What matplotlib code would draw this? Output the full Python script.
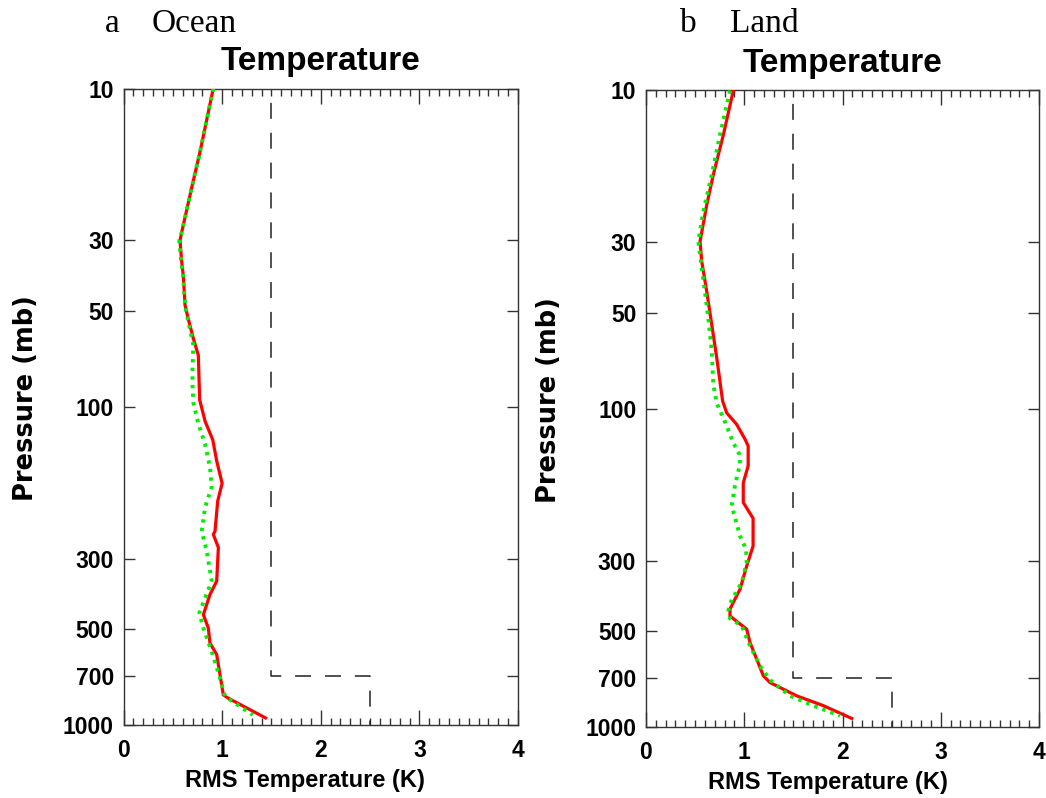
import matplotlib
matplotlib.use("Agg")
import matplotlib.pyplot as plt
from matplotlib.ticker import FixedLocator, MultipleLocator, NullLocator, FixedFormatter
import numpy as np

plt.rcParams['lines.scale_dashes'] = False

# ---------------- data ----------------
ocean_red_p = [10, 15.8, 20.6, 28.3, 30, 35, 39, 48, 53, 61, 69, 95, 111, 127, 148, 174, 198,
               246, 252, 277, 353, 389, 450, 496, 553, 601, 804, 824, 950]
ocean_red_t = [0.91, 0.776, 0.69, 0.59, 0.573, 0.59, 0.607, 0.624, 0.657, 0.708, 0.759, 0.772,
               0.827, 0.905, 0.945, 1.0, 0.955, 0.928, 0.911, 0.962, 0.945, 0.877, 0.81, 0.86,
               0.877, 0.945, 1.012, 1.063, 1.44]

ocean_grn_p = [10, 15.8, 20.6, 28.3, 30, 35, 39, 48, 51, 64, 76, 86, 97, 113, 131, 155, 179,
               207, 246, 284, 353, 399, 444, 496, 588, 713, 813, 930]
ocean_grn_t = [0.91, 0.776, 0.69, 0.59, 0.565, 0.585, 0.605, 0.624, 0.64, 0.708, 0.70, 0.70,
               0.708, 0.759, 0.827, 0.877, 0.894, 0.827, 0.793, 0.844, 0.894, 0.827, 0.769,
               0.81, 0.894, 0.979, 1.029, 1.31]

land_red_p = [10, 13.8, 18.4, 22.9, 29.8, 34.4, 42.8, 54.4, 69.2, 94.6, 103, 112, 125, 131,
              151, 171, 197, 221, 270, 312, 369, 426, 448, 493, 543, 690, 725, 798, 857, 940]
land_red_t = [0.889, 0.787, 0.685, 0.618, 0.55, 0.567, 0.618, 0.669, 0.72, 0.78, 0.821, 0.923,
              1.01, 1.04, 1.04, 0.99, 0.99, 1.09, 1.09, 1.025, 0.957, 0.855, 0.855, 1.025,
              1.059, 1.194, 1.262, 1.533, 1.805, 2.094]

land_grn_p = [10, 13.8, 18.4, 24.0, 29.8, 37.9, 51.8, 66, 84, 96, 110, 128, 139, 149, 174,
              202, 220, 251, 276, 305, 352, 398, 431, 456, 481, 556, 642, 712, 798, 857, 922]
land_grn_t = [0.855, 0.753, 0.669, 0.583, 0.532, 0.577, 0.634, 0.669, 0.685, 0.72, 0.804,
              0.889, 0.95, 0.957, 0.906, 0.872, 0.906, 0.957, 1.018, 1.025, 0.974, 0.872,
              0.838, 0.855, 0.974, 1.059, 1.16, 1.262, 1.465, 1.703, 1.975]

# reference (threshold) step line
thr_t = [1.5, 1.5, 2.5, 2.5]
thr_p = [10, 700, 700, 1000]

ytick_vals = [10, 30, 50, 100, 300, 500, 700, 1000]
ytick_labels = ["10", "30", "50", "100", "300", "500", "700", "1000"]
xtick_vals = [0, 1, 2, 3, 4]
xtick_labels = ["0", "1", "2", "3", "4"]

panel_letters = ["a", "b"]
panel_names = ["Ocean", "Land"]
title = "Temperature"
xlabel = "RMS Temperature (K)"
ylabel = "Pressure (mb)"

# ---------------- figure ----------------
W, H = 1046, 798
fig = plt.figure(figsize=(W / 100, H / 100), dpi=100)

sans = ['Liberation Sans', 'DejaVu Sans']
wide_sans = ['DejaVu Sans']
serif = ['Liberation Serif', 'DejaVu Serif']

def px_axes(l, t, r, b):
    return fig.add_axes([l / W, 1 - b / H, (r - l) / W, (b - t) / H])

axes_px = [(123.5, 88.5, 518, 725), (646, 90.5, 1039, 727)]
datasets = [(ocean_red_t, ocean_red_p, ocean_grn_t, ocean_grn_p),
            (land_red_t, land_red_p, land_grn_t, land_grn_p)]
letter_x = [112, 688]
name_x = [152, 730]
ylabel_x = [26, 549]
xlabel_x = [305, 828]

for i in range(2):
    l, t, r, b = axes_px[i]
    ax = px_axes(l, t, r, b)
    rt, rp, gt, gp = datasets[i]
    ax.plot(thr_t, thr_p, color='#222222', lw=1.1, linestyle=(11.5, (11.5, 10)), zorder=2)
    ax.plot(rt, rp, color='#ff0000', lw=2.3, solid_joinstyle='miter', zorder=3)
    ax.plot(gt, gp, color='#00ee00', lw=2.8, linestyle=(0, (2.4, 3.8)), zorder=4)

    ax.set_yscale('log')
    ax.set_ylim(1000, 10)
    ax.set_xlim(0, 4)
    ax.yaxis.set_major_locator(FixedLocator(ytick_vals))
    ax.yaxis.set_major_formatter(FixedFormatter(ytick_labels))
    ax.yaxis.set_minor_locator(NullLocator())
    ax.xaxis.set_major_locator(FixedLocator(xtick_vals))
    ax.xaxis.set_major_formatter(FixedFormatter(xtick_labels))
    ax.xaxis.set_minor_locator(MultipleLocator(0.1))

    ax.tick_params(axis='both', which='both', direction='in', top=True, right=True,
                   color='#333333')
    ax.tick_params(axis='x', which='major', length=11, width=1, pad=10)
    ax.tick_params(axis='x', which='minor', length=5, width=1)
    ax.tick_params(axis='y', which='major', length=8, width=1, pad=7)
    for lab in ax.get_xticklabels() + ax.get_yticklabels():
        lab.set_fontfamily(sans)
        lab.set_fontweight('bold')
        lab.set_fontsize(16.5)
    for s in ax.spines.values():
        s.set_color('#333333')
        s.set_linewidth(1.0)

    ah = b - t
    aw = r - l
    ax.text(0.5, 1 + 27 / ah, title, transform=ax.transAxes, ha='center', va='center',
            fontsize=24, fontweight='bold', family=sans)
    ax.text((xlabel_x[i] - l) / aw, -56 / ah, xlabel,
            transform=ax.transAxes, ha='center', va='center', fontsize=17,
            fontweight='bold', family=sans)
    ax.text((ylabel_x[i] - l) / aw, 0.5 + 9 / ah, ylabel, transform=ax.transAxes,
            ha='center', va='center', rotation=90, fontsize=18.5, fontweight='bold',
            family=wide_sans)

    fig.text(letter_x[i] / W, 1 - 24 / H, panel_letters[i], ha='center', va='center',
             fontsize=24, family=serif)
    fig.text(name_x[i] / W, 1 - 24 / H, panel_names[i], ha='left', va='center',
             fontsize=24, family=serif)

fig.savefig('out.png', dpi=100)
